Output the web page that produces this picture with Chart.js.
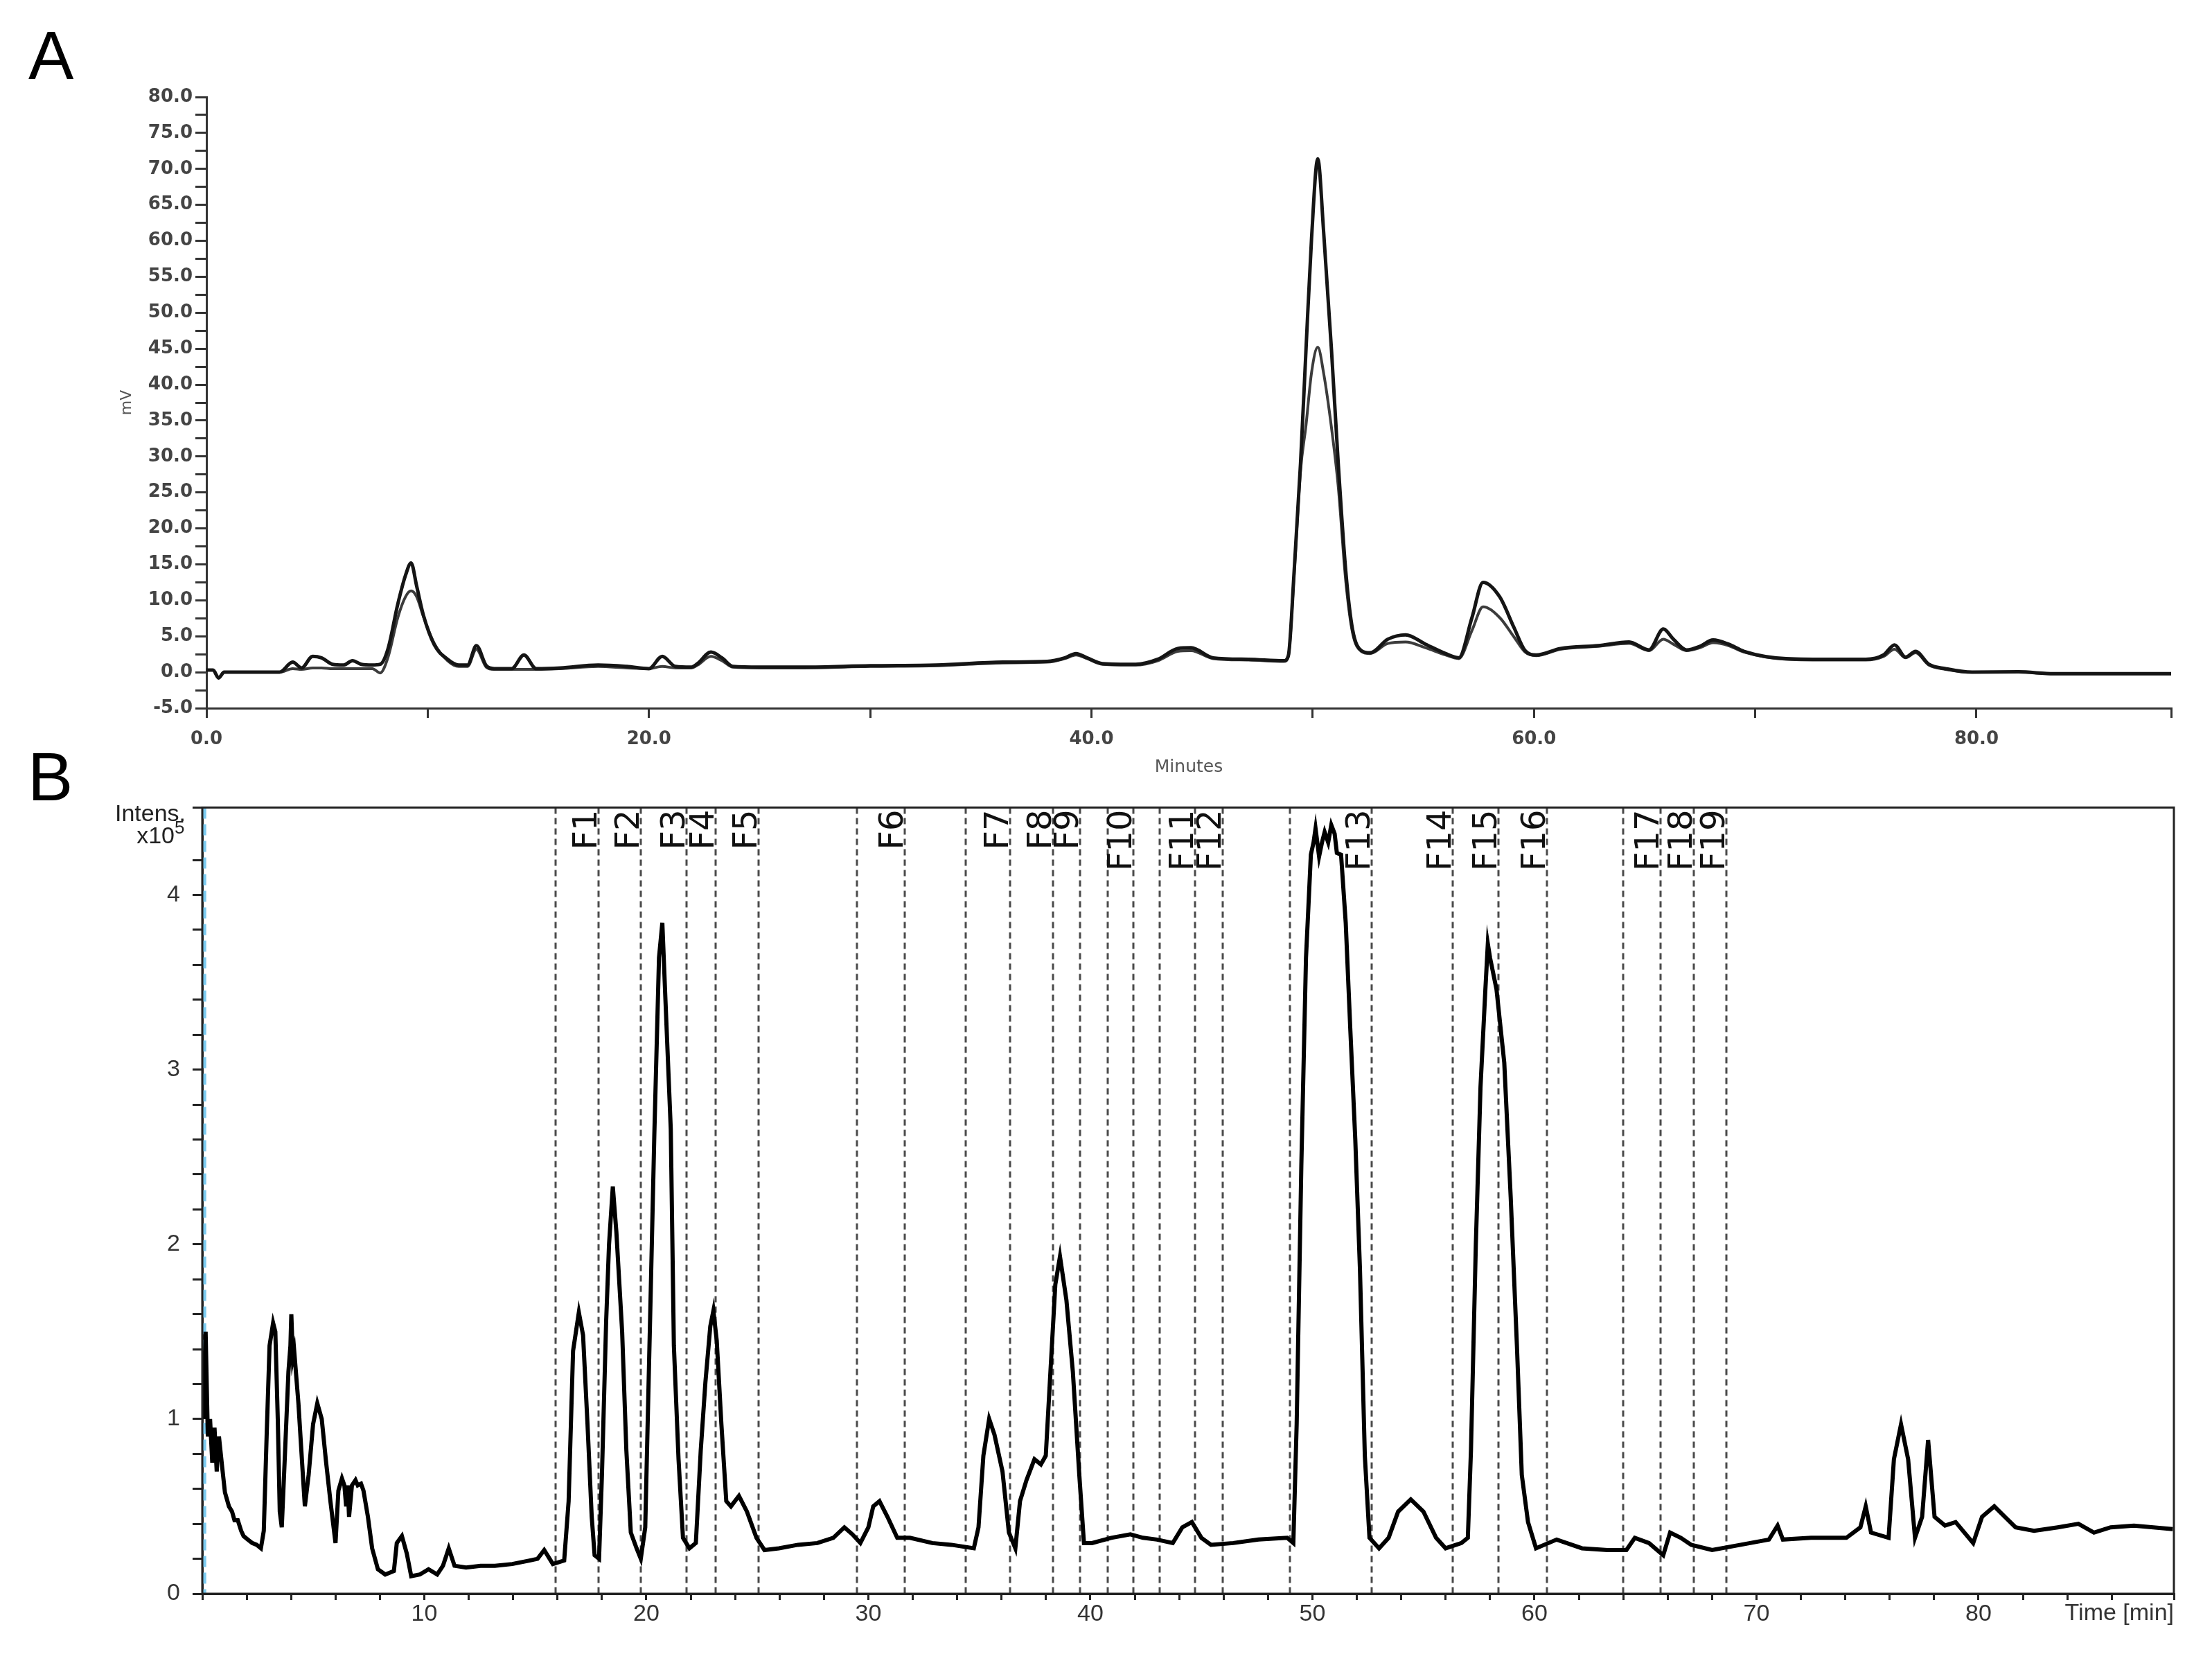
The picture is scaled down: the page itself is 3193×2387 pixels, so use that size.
<!DOCTYPE html>
<html>
<head>
<meta charset="utf-8">
<script src="https://cdn.jsdelivr.net/npm/chart.js@4.4.1/dist/chart.umd.min.js"></script>
<style>
  html, body { margin: 0; padding: 0; background: #fff; width: 3193px; height: 2387px; overflow: hidden; }
  #wrapA { position: absolute; left: 0; top: 0; width: 3193px; height: 1150px; }
  #wrapB { position: absolute; left: 0; top: 1127px; width: 3193px; height: 1260px; }
  .panel { position: absolute; font-family: "Liberation Sans", Arial, sans-serif; font-size: 98px; line-height: 1; color: #000; }
</style>
</head>
<body>
<div class="panel" style="left:41px;top:31px">A</div>
<div class="panel" style="left:40px;top:1072px">B</div>
<div id="wrapA"><canvas id="chartA"></canvas></div>
<div id="wrapB"><canvas id="chartB"></canvas></div>

<script>
// Panel A: UV trace (mV) vs minutes, two runs
const timeA = [0, 0.3, 0.55, 0.8, 1.2, 3.3, 3.9, 4.3, 4.8, 5.2, 5.7, 6.2, 6.6, 7.0, 7.5, 7.85, 8.2, 8.65, 9.0, 9.25,
  9.5, 9.8, 10.3, 10.9, 11.4, 11.8, 12.2, 12.65, 13.0, 13.8, 14.35, 14.9, 16.0, 17.7, 19.0, 20.0, 20.6, 21.2, 21.9, 22.2,
  22.8, 23.3, 23.8, 25.0, 27.0, 30.0, 33.0, 36.0, 38.0, 38.8, 39.3, 39.8, 40.5, 42.0, 43.0, 43.9, 44.5, 45.5, 47.1, 48.7,
  48.9, 49.15, 49.45, 49.7, 49.95, 50.23, 50.5, 50.85, 51.15, 51.5, 51.8, 52.2, 52.6, 53.4, 54.2, 55.1, 56.0, 56.6, 57.2, 57.7,
  58.45, 59.1, 59.6, 60.1, 61.2, 62.9, 64.3, 65.2, 65.85, 66.3, 66.9, 67.5, 68.1, 68.8, 69.5, 71.4, 73.6, 75.0, 75.8, 76.3,
  76.8, 77.25, 77.85, 78.6, 79.8, 81.9, 83.5, 88.8];
const uvRun1 = [0.3, 0.3, -0.8, 0, 0, 0, 1.4, 0.6, 2.2, 2.0, 1.1, 1.0, 1.6, 1.1, 1.0, 1.1, 3.2, 9.5, 13.5, 15.2,
  12.0, 8.0, 3.8, 1.8, 1.0, 1.0, 3.7, 0.9, 0.5, 0.5, 2.4, 0.5, 0.6, 1.0, 0.8, 0.5, 2.2, 0.8, 0.7, 1.2,
  2.8, 2.0, 0.8, 0.7, 0.7, 0.9, 1.0, 1.4, 1.5, 2.0, 2.6, 2.0, 1.2, 1.1, 1.8, 3.3, 3.4, 2.0, 1.8, 1.6,
  2.3, 13.4, 29.0, 45.0, 60.4, 71.4, 61.0, 44.8, 29.3, 13.9, 6.0, 3.0, 2.7, 4.6, 5.2, 3.9, 2.6, 2.0, 7.6, 12.5,
  10.5, 6.2, 3.0, 2.4, 3.3, 3.7, 4.2, 3.1, 6.0, 4.6, 3.1, 3.6, 4.5, 3.9, 2.9, 1.9, 1.8, 1.8, 2.4, 3.8,
  2.1, 2.9, 1.1, 0.5, 0.0, 0.05, -0.2, -0.2];
const uvRun2 = [0.3, 0.3, -0.8, 0, 0, 0, 0.5, 0.4, 0.6, 0.6, 0.5, 0.5, 0.5, 0.5, 0.5, -0.1, 2.0, 7.6, 10.5, 11.3,
  10.5, 7.8, 4.0, 1.6, 0.8, 0.8, 3.2, 0.7, 0.4, 0.4, 0.4, 0.4, 0.5, 0.8, 0.6, 0.5, 0.8, 0.6, 0.6, 1.0,
  2.2, 1.6, 0.7, 0.6, 0.6, 0.8, 0.9, 1.3, 1.4, 1.9, 2.4, 1.9, 1.1, 1.0, 1.6, 2.9, 3.0, 1.9, 1.7, 1.5,
  2.2, 13.0, 28.0, 34.4, 41.7, 45.2, 41.5, 34.0, 26.0, 12.5, 5.5, 2.9, 2.6, 4.0, 4.2, 3.4, 2.4, 1.9, 5.8, 9.1,
  7.6, 4.9, 2.8, 2.3, 3.2, 3.6, 4.0, 3.0, 4.6, 3.9, 3.0, 3.4, 4.1, 3.7, 2.8, 1.8, 1.7, 1.7, 2.2, 3.2,
  2.0, 2.7, 1.0, 0.4, 0.0, 0.0, -0.2, -0.2];

// Panel B: MS intensity (x10^5) vs time [min]
const timeB = [0.05, 0.15, 0.25, 0.35, 0.45, 0.55, 0.65, 0.75, 0.9, 1.02, 1.2, 1.34, 1.45, 1.6, 1.75, 1.86, 2.05, 2.25, 2.45, 2.64,
  2.77, 2.9, 3.03, 3.19, 3.29, 3.4, 3.49, 3.58, 3.71, 3.88, 3.97, 4.01, 4.08, 4.14, 4.33, 4.53, 4.62, 4.79, 4.99, 5.18,
  5.38, 5.57, 5.77, 6.0, 6.13, 6.29, 6.4, 6.48, 6.55, 6.61, 6.74, 6.9, 7.0, 7.15, 7.26, 7.46, 7.65, 7.91, 8.24, 8.63,
  8.76, 8.99, 9.21, 9.41, 9.8, 10.19, 10.58, 10.84, 11.1, 11.36, 11.88, 12.53, 13.18, 13.96, 14.74, 15.1, 15.4, 15.79, 16.3, 16.5,
  16.7, 16.96, 17.15, 17.35, 17.54, 17.67, 17.87, 18.0, 18.19, 18.32, 18.49, 18.65, 18.91, 19.1, 19.3, 19.56, 19.75, 19.95, 20.2, 20.36,
  20.57, 20.72, 20.86, 21.1, 21.24, 21.45, 21.65, 21.94, 22.23, 22.45, 22.66, 22.88, 23.02, 23.17, 23.38, 23.6, 23.81, 24.17, 24.53, 24.96,
  25.32, 25.97, 26.83, 27.7, 28.42, 28.92, 29.28, 29.64, 30.0, 30.22, 30.5, 30.86, 31.3, 31.87, 32.88, 33.74, 34.75, 34.96, 35.18, 35.44,
  35.68, 36.04, 36.33, 36.62, 36.83, 37.12, 37.48, 37.77, 37.99, 38.2, 38.42, 38.63, 38.92, 39.21, 39.5, 39.71, 40.07, 40.94, 41.8, 42.37,
  43.0, 43.71, 44.14, 44.57, 45.0, 45.43, 46.43, 47.57, 48.86, 49.14, 49.29, 49.5, 49.71, 49.93, 50.05, 50.14, 50.3, 50.43, 50.55, 50.71,
  50.85, 51.0, 51.1, 51.29, 51.5, 51.71, 51.93, 52.14, 52.36, 52.57, 53.0, 53.43, 53.86, 54.43, 55.0, 55.57, 56.0, 56.71, 57.0, 57.14,
  57.36, 57.57, 57.79, 57.9, 58.0, 58.29, 58.64, 58.93, 59.21, 59.43, 59.71, 60.07, 61.0, 62.14, 63.29, 64.14, 64.52, 65.16, 65.8, 66.11,
  66.59, 67.06, 68.0, 69.29, 70.56, 70.95, 71.19, 72.46, 74.05, 74.68, 74.92, 75.16, 75.95, 76.19, 76.51, 76.83, 77.14, 77.46, 77.73, 78.02,
  78.49, 78.97, 79.76, 80.16, 80.71, 81.19, 81.67, 82.5, 83.57, 84.5, 85.2, 85.95, 87.0, 88.75];
const intensB = [1.0, 1.5, 0.9, 1.0, 0.75, 0.95, 0.7, 0.9, 0.72, 0.58, 0.5, 0.47, 0.42, 0.42, 0.36, 0.33, 0.31, 0.29, 0.28, 0.26,
  0.36, 0.91, 1.42, 1.55, 1.5, 1.0, 0.47, 0.38, 0.76, 1.27, 1.42, 1.6, 1.35, 1.39, 1.09, 0.68, 0.5, 0.68, 0.97, 1.09,
  1.0, 0.76, 0.53, 0.29, 0.59, 0.66, 0.62, 0.5, 0.62, 0.44, 0.62, 0.65, 0.62, 0.63, 0.59, 0.44, 0.26, 0.14, 0.11, 0.13,
  0.29, 0.33, 0.23, 0.1, 0.11, 0.14, 0.11, 0.16, 0.26, 0.16, 0.15, 0.16, 0.16, 0.17, 0.19, 0.2, 0.25, 0.17, 0.19, 0.53,
  1.39, 1.61, 1.48, 0.97, 0.44, 0.22, 0.2, 0.68, 1.56, 2.0, 2.33, 2.07, 1.5, 0.82, 0.35, 0.26, 0.2, 0.38, 1.74, 2.63,
  3.64, 3.84, 3.4, 2.66, 1.42, 0.77, 0.32, 0.26, 0.29, 0.82, 1.21, 1.53, 1.62, 1.45, 0.97, 0.53, 0.5, 0.56, 0.47, 0.32,
  0.25, 0.26, 0.28, 0.29, 0.32, 0.38, 0.34, 0.29, 0.38, 0.5, 0.53, 0.44, 0.32, 0.32, 0.29, 0.28, 0.26, 0.38, 0.79, 1.0,
  0.91, 0.7, 0.35, 0.26, 0.53, 0.65, 0.77, 0.74, 0.79, 1.27, 1.77, 1.93, 1.68, 1.27, 0.68, 0.29, 0.29, 0.32, 0.34, 0.32,
  0.31, 0.29, 0.38, 0.41, 0.32, 0.28, 0.29, 0.31, 0.32, 0.29, 0.97, 2.45, 3.64, 4.23, 4.3, 4.38, 4.22, 4.3, 4.36, 4.3,
  4.4, 4.35, 4.24, 4.23, 3.84, 3.22, 2.6, 1.86, 0.79, 0.32, 0.26, 0.32, 0.47, 0.54, 0.47, 0.32, 0.26, 0.29, 0.32, 0.82,
  2.0, 2.9, 3.46, 3.72, 3.64, 3.46, 3.04, 2.27, 1.42, 0.68, 0.41, 0.26, 0.31, 0.26, 0.25, 0.25, 0.32, 0.29, 0.22, 0.35,
  0.32, 0.28, 0.25, 0.28, 0.31, 0.39, 0.31, 0.32, 0.32, 0.38, 0.5, 0.35, 0.32, 0.77, 0.97, 0.77, 0.32, 0.44, 0.88, 0.44,
  0.39, 0.41, 0.29, 0.44, 0.5, 0.44, 0.38, 0.36, 0.38, 0.4, 0.35, 0.38, 0.39, 0.37];

// fraction cut lines and the line each label sits against
const fractionCuts = [15.9, 17.85, 19.75, 21.8, 23.12, 25.06, 29.5, 31.65, 34.39, 36.37, 38.32, 39.53, 40.79,
  41.94, 43.11, 44.71, 45.97, 49.0, 52.67, 56.33, 58.39, 60.57, 64.0, 65.67, 67.19, 68.65];
const fractionNames = ['F1', 'F2', 'F3', 'F4', 'F5', 'F6', 'F7', 'F8', 'F9', 'F10',
  'F11', 'F12', 'F13', 'F14', 'F15', 'F16', 'F17', 'F18', 'F19'];
const fractionLabelAt = [17.85, 19.75, 21.8, 23.12, 25.06, 31.65, 36.37, 38.32, 39.53, 41.94,
  44.71, 45.97, 52.67, 56.33, 58.39, 60.57, 65.67, 67.19, 68.65];

const pts = (xs, ys) => xs.map((x, i) => ({ x: x, y: ys[i] }));
const isMult = (v, m) => Math.abs(v / m - Math.round(v / m)) < 1e-6;

const chartA = new Chart(document.getElementById('chartA'), {
  type: 'line',
  data: {
    datasets: [
      { data: pts(timeA, uvRun1), borderColor: '#151515', borderWidth: 5, pointRadius: 0, cubicInterpolationMode: 'monotone' },
      { data: pts(timeA, uvRun2), borderColor: '#3c3c3c', borderWidth: 4, pointRadius: 0, cubicInterpolationMode: 'monotone' }
    ]
  },
  options: {
    animation: false,
    responsive: true,
    maintainAspectRatio: false,
    devicePixelRatio: 1,
    layout: { padding: { left: 0, right: 59, top: 140, bottom: 0 } },
    plugins: { legend: { display: false }, tooltip: { enabled: false } },
    scales: {
      x: {
        type: 'linear', min: 0, max: 88.8,
        afterFit: s => { s.height = 128; },
        ticks: {
          stepSize: 10, autoSkip: false, maxRotation: 0, padding: 16, color: '#444',
          font: { family: 'DejaVu Sans', size: 26, weight: 'bold' },
          callback: v => (isMult(v, 20) && v <= 80) ? v.toFixed(1) : ''
        },
        grid: { drawOnChartArea: false, tickLength: 14, color: '#333', lineWidth: 3 },
        border: { color: '#333', width: 3 },
        title: { display: true, text: 'Minutes', color: '#555', font: { family: 'DejaVu Sans', size: 25 }, padding: { top: 0, bottom: 28 } }
      },
      y: {
        min: -5, max: 80,
        afterFit: s => { s.width = 298; },
        ticks: {
          stepSize: 2.5, autoSkip: false, padding: 4, color: '#444',
          font: { family: 'DejaVu Sans', size: 26, weight: 'bold' },
          callback: v => isMult(v, 5) ? v.toFixed(1) : ''
        },
        grid: { drawOnChartArea: false, tickLength: 16, color: '#333', lineWidth: 3 },
        border: { color: '#333', width: 3 },
        title: { display: true, text: 'mV', color: '#555', font: { family: 'DejaVu Sans', size: 22 }, padding: { top: 170, bottom: 0 } }
      }
    }
  }
});

// dashed fraction lines, labels, box and the intensity caption for panel B
const fractionPlugin = {
  id: 'fractions',
  beforeDatasetsDraw(chart) {
    const { ctx, chartArea: a, scales: { x } } = chart;
    ctx.save();
    ctx.lineWidth = 3;
    ctx.strokeStyle = '#4a4a4a';
    ctx.setLineDash([9, 6]);
    fractionCuts.forEach(t => {
      const px = Math.round(x.getPixelForValue(t));
      ctx.beginPath();
      ctx.moveTo(px, a.top);
      ctx.lineTo(px, a.bottom);
      ctx.stroke();
    });
    // light blue marker at the start
    ctx.strokeStyle = '#7ccbf0';
    ctx.lineWidth = 5;
    ctx.setLineDash([16, 8]);
    const bx = x.getPixelForValue(0.1);
    ctx.beginPath();
    ctx.moveTo(bx, a.top);
    ctx.lineTo(bx, a.bottom);
    ctx.stroke();
    ctx.restore();
  },
  afterDraw(chart) {
    const { ctx, chartArea: a, scales: { x } } = chart;
    ctx.save();
    ctx.fillStyle = '#111';
    ctx.font = '48px "DejaVu Sans"';
    ctx.textAlign = 'right';
    ctx.textBaseline = 'alphabetic';
    fractionNames.forEach((name, i) => {
      const px = x.getPixelForValue(fractionLabelAt[i]);
      ctx.save();
      ctx.translate(px - 3, a.top + 3);
      ctx.rotate(-Math.PI / 2);
      ctx.fillText(name, 0, 0);
      ctx.restore();
    });
    ctx.strokeStyle = '#222';
    ctx.lineWidth = 3;
    ctx.strokeRect(a.left, a.top, a.right - a.left, a.bottom - a.top);

    const ty = a.top;
    ctx.fillStyle = '#222';
    ctx.font = '34px "Liberation Sans"';
    ctx.textAlign = 'right';
    ctx.fillText('Intens.', 268, ty + 20);
    ctx.fillText('x10', 252, ty + 52);
    ctx.font = '26px "Liberation Sans"';
    ctx.textAlign = 'left';
    ctx.fillText('5', 252, ty + 38);
    ctx.restore();
  }
};

const chartB = new Chart(document.getElementById('chartB'), {
  type: 'line',
  data: {
    datasets: [
      { data: pts(timeB, intensB), borderColor: '#000', borderWidth: 6, pointRadius: 0, tension: 0 }
    ]
  },
  options: {
    animation: false,
    responsive: true,
    maintainAspectRatio: false,
    devicePixelRatio: 1,
    layout: { padding: { left: 0, right: 55, top: 20, bottom: 0 } },
    plugins: { legend: { display: false }, tooltip: { enabled: false } },
    scales: {
      x: {
        type: 'linear', min: 0, max: 88.8,
        afterFit: s => { s.height = 87; },
        ticks: {
          stepSize: 2, autoSkip: false, maxRotation: 0, padding: 0, color: '#333',
          font: { family: 'Liberation Sans', size: 34 },
          callback: v => (isMult(v, 10) && v > 0 && v <= 80) ? String(Math.round(v)) : ''
        },
        grid: { drawOnChartArea: false, tickLength: 9, color: '#222', lineWidth: 3 },
        border: { color: '#222', width: 3 },
        title: { display: true, text: 'Time [min]', align: 'end', color: '#333', font: { family: 'Liberation Sans', size: 34 }, padding: { top: 0, bottom: 38 } }
      },
      y: {
        min: 0, max: 4.5,
        afterFit: s => { s.width = 292; },
        ticks: {
          stepSize: 0.2, autoSkip: false, padding: 18, color: '#333',
          font: { family: 'Liberation Sans', size: 34 },
          callback: v => isMult(v, 1) ? String(Math.round(v)) : ''
        },
        grid: { drawOnChartArea: false, tickLength: 14, color: '#222', lineWidth: 3 },
        border: { color: '#222', width: 3 }
      }
    }
  },
  plugins: [fractionPlugin]
});
</script>
</body>
</html>
